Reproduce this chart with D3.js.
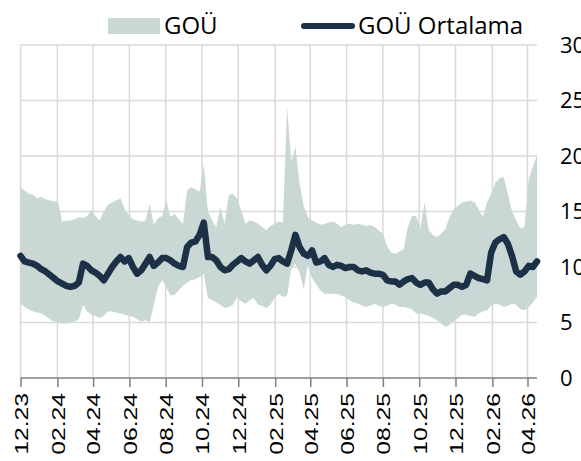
<!DOCTYPE html>
<html>
<head>
<meta charset="utf-8">
<script src="https://cdn.jsdelivr.net/npm/d3@7"></script>
<style>
  body { margin: 0; background: #fff; }
</style>
</head>
<body>
<div id="chart"></div>
<script>
// weekly series, first week starts 01.12.2023
const startDate = '2023-12-01';

const goMax = [17.2, 16.9, 16.6, 16.5, 16.2, 16.3, 16.1, 16.0, 15.9, 15.9,
  14.1, 14.2, 14.2, 14.3, 14.5, 14.4, 14.6, 15.1, 14.6, 14.2,
  15.0, 15.6, 15.8, 16.0, 16.2, 15.2, 14.7, 14.3, 14.2, 14.1,
  14.2, 15.7, 13.8, 14.4, 14.6, 16.0, 14.5, 14.8, 14.3, 13.9,
  16.9, 17.2, 17.0, 16.8, 19.2, 15.0, 14.2, 13.6, 15.4, 13.9,
  16.5, 16.6, 16.2, 15.1, 13.9, 14.2, 14.1, 13.9, 13.6, 13.3,
  13.7, 13.9, 14.1, 14.0, 24.4, 19.5, 20.8, 17.5, 15.5, 14.5,
  14.2, 14.0, 13.8, 13.9, 14.0, 14.1, 13.9, 13.6, 13.8, 13.9,
  13.8, 13.9, 13.8, 13.7, 13.8, 13.6, 13.3, 13.0, 11.9, 11.3,
  11.2, 11.4, 11.6, 13.6, 14.6, 14.6, 13.5, 15.8, 13.3, 12.9,
  12.7, 13.0, 13.4, 14.5, 15.2, 15.5, 15.8, 15.9, 16.0, 15.8,
  15.2, 14.5, 15.8, 16.6, 17.6, 18.0, 18.1, 16.6, 15.0, 14.2,
  13.5, 13.6, 17.9, 19.0, 20.1];

const goMin = [6.7, 6.4, 6.2, 6.0, 5.9, 5.8, 5.6, 5.3, 5.1, 5.0,
  4.9, 4.9, 5.0, 5.1, 5.3, 6.6, 6.0, 5.7, 5.6, 5.4,
  5.6, 6.0, 6.0, 5.9, 5.8, 5.7, 5.6, 5.5, 5.3, 5.1,
  5.2, 5.0, 6.6, 8.2, 8.8, 8.2, 7.4, 7.5, 7.9, 8.3,
  8.6, 8.8, 8.9, 9.1, 9.4, 7.2, 7.0, 6.8, 6.6, 6.3,
  6.4, 6.6, 7.3, 6.9, 6.7, 7.0, 7.2, 6.6, 6.5, 6.3,
  6.6, 7.2, 7.6, 7.3, 7.4, 9.8, 10.3, 9.5, 8.0, 10.2,
  9.0, 8.4, 7.9, 7.6, 7.6, 7.6, 7.6, 7.4, 7.3, 7.0,
  6.8, 6.7, 6.5, 6.4, 6.5, 6.7, 6.5, 6.4, 6.5, 6.7,
  6.6, 6.4, 6.4, 6.3, 6.2, 5.8, 5.8, 5.7, 5.6, 5.4,
  5.2, 4.9, 4.6, 4.8, 5.1, 5.4, 5.7, 5.7, 5.6, 5.5,
  5.8, 6.0, 6.1, 6.5, 6.7, 6.6, 6.4, 6.5, 6.7, 6.6,
  6.2, 6.1, 6.4, 6.8, 7.3];

const goAvg = [11.0, 10.5, 10.4, 10.3, 10.1, 9.8, 9.6, 9.3, 9.0, 8.7,
  8.5, 8.3, 8.2, 8.3, 8.6, 10.3, 10.1, 9.7, 9.5, 9.2,
  8.8, 9.4, 10.0, 10.5, 10.9, 10.5, 10.8, 10.0, 9.4, 9.7,
  10.3, 10.9, 10.1, 10.4, 10.8, 10.8, 10.6, 10.3, 10.1, 10.0,
  11.8, 12.2, 12.3, 12.9, 14.0, 10.9, 10.9, 10.6, 10.0, 9.7,
  9.8, 10.2, 10.5, 10.8, 10.5, 10.3, 10.6, 10.9, 10.2, 9.7,
  10.1, 10.7, 10.8, 10.5, 10.3, 11.5, 12.9, 11.8, 11.2, 11.0,
  11.5, 10.4, 10.5, 10.8, 10.2, 10.0, 10.2, 10.1, 9.9, 10.0,
  10.0, 9.7, 9.6, 9.7, 9.5, 9.4, 9.4, 9.3, 8.8, 8.7,
  8.7, 8.4, 8.7, 8.9, 9.0, 8.6, 8.4, 8.6, 8.6, 8.0,
  7.6, 7.8, 7.8, 8.1, 8.4, 8.4, 8.2, 8.4, 9.4, 9.2,
  9.0, 8.9, 8.8, 11.3, 12.2, 12.5, 12.7, 12.1, 11.0, 9.6,
  9.3, 9.6, 10.1, 10.0, 10.5];

const tickLabels = ['12.23', '02.24', '04.24', '06.24', '08.24', '10.24', '12.24',
  '02.25', '04.25', '06.25', '08.25', '10.25', '12.25', '02.26', '04.26'];
const yTicks = [0, 5, 10, 15, 20, 25, 30];

const seriesNames = ['GOÜ', 'GOÜ Ortalama'];

const width = 581, height = 461;
const margin = { top: 45, right: 44, bottom: 83, left: 20.5 };
const bandColor = '#c9d8d5';
const lineColor = '#1c3046';
const gridColor = '#d9d9d9';

const t0 = d3.isoParse(startDate);
const data = goAvg.map((v, i) => ({
  date: d3.timeDay.offset(t0, 7 * i),
  min: goMin[i],
  max: goMax[i],
  avg: v
}));

const svg = d3.select('#chart')
  .append('svg')
  .attr('width', width)
  .attr('height', height);

const x = d3.scaleTime()
  .domain(d3.extent(data, d => d.date))
  .range([margin.left, width - margin.right]);

const y = d3.scaleLinear()
  .domain([0, 30])
  .range([height - margin.bottom, margin.top]);

const parseTick = d3.timeParse('%m.%y');
const tickDates = tickLabels.map(parseTick);

// grid
svg.append('g')
  .selectAll('line')
  .data(yTicks.filter(d => d > 0))
  .enter()
  .append('line')
  .attr('x1', margin.left)
  .attr('x2', width - margin.right)
  .attr('y1', d => y(d))
  .attr('y2', d => y(d))
  .attr('stroke', gridColor)
  .attr('stroke-width', 1.5);

svg.append('g')
  .selectAll('line')
  .data(tickDates)
  .enter()
  .append('line')
  .attr('x1', d => x(d))
  .attr('x2', d => x(d))
  .attr('y1', y(30))
  .attr('y2', y(0))
  .attr('stroke', gridColor)
  .attr('stroke-width', 1.5);

// min-max band
const area = d3.area()
  .x(d => x(d.date))
  .y0(d => y(d.min))
  .y1(d => y(d.max));

svg.append('path')
  .datum(data)
  .attr('d', area)
  .attr('fill', bandColor);

// average line
const line = d3.line()
  .x(d => x(d.date))
  .y(d => y(d.avg));

svg.append('path')
  .datum(data)
  .attr('d', line)
  .attr('fill', 'none')
  .attr('stroke', lineColor)
  .attr('stroke-width', 6.5)
  .attr('stroke-linejoin', 'round')
  .attr('stroke-linecap', 'round');

// x axis
const xAxis = svg.append('g')
  .attr('transform', `translate(0,${y(0)})`)
  .call(d3.axisBottom(x)
    .tickValues(tickDates)
    .tickFormat((d, i) => tickLabels[i])
    .tickSize(9)
    .tickSizeOuter(0));

xAxis.select('.domain')
  .attr('stroke', '#808080')
  .attr('stroke-width', 1.5)
  .attr('d', `M${margin.left},0H${width - margin.right}`);
xAxis.selectAll('.tick line')
  .attr('stroke', '#808080')
  .attr('stroke-width', 1.5);
xAxis.selectAll('.tick text')
  .attr('transform', 'rotate(-90) scale(1.3,1)')
  .attr('x', -11.5)
  .attr('y', 0)
  .attr('dy', '0.36em')
  .attr('text-anchor', 'end')
  .style('font-family', '"Liberation Sans", Arial, sans-serif')
  .style('font-size', '19px')
  .attr('fill', '#000');

// y axis labels on the right
svg.append('g')
  .selectAll('text')
  .data(yTicks)
  .enter()
  .append('text')
  .attr('x', 560)
  .attr('y', d => y(d))
  .attr('dy', '0.36em')
  .style('font-family', '"Open Sans", sans-serif')
  .style('font-size', '22px')
  .attr('fill', '#000')
  .text(d => d);

// legend
const legend = svg.append('g')
  .style('font-family', '"Open Sans", sans-serif')
  .style('font-size', '24px');

legend.append('rect')
  .attr('x', 108)
  .attr('y', 18)
  .attr('width', 52)
  .attr('height', 16)
  .attr('fill', bandColor);

legend.append('text')
  .attr('x', 164)
  .attr('y', 33.5)
  .attr('fill', '#000')
  .text(seriesNames[0]);

legend.append('line')
  .attr('x1', 304)
  .attr('x2', 352)
  .attr('y1', 26)
  .attr('y2', 26)
  .attr('stroke', lineColor)
  .attr('stroke-width', 6)
  .attr('stroke-linecap', 'round');

legend.append('text')
  .attr('x', 358)
  .attr('y', 33.5)
  .attr('fill', '#000')
  .text(seriesNames[1]);
</script>
</body>
</html>
